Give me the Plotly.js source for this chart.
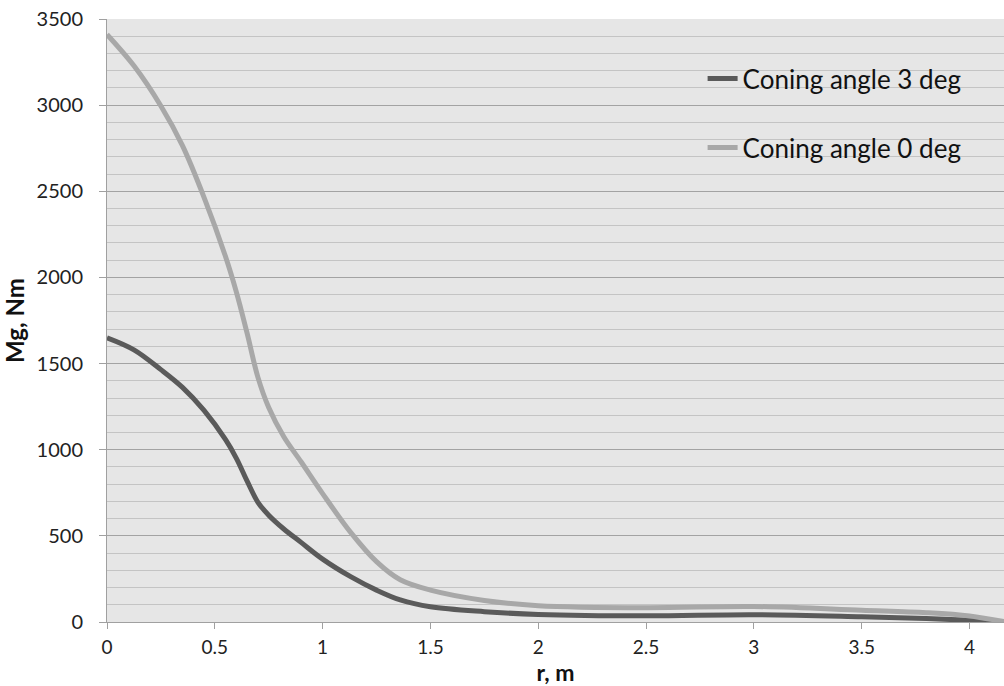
<!DOCTYPE html>
<html>
<head>
<meta charset="utf-8">
<script src="https://cdn.plot.ly/plotly-3.0.1.min.js"></script>
<style>html,body{margin:0;padding:0;background:#fff;}#chart{width:1004px;height:686px;}</style>
</head>
<body>
<div id="chart"></div>
<script>
var r = [0, 0.125, 0.25, 0.35, 0.45, 0.55, 0.6, 0.65, 0.7, 0.75, 0.82, 0.9, 1.0, 1.13, 1.25, 1.36, 1.5, 1.75, 2.0, 2.5, 3.0, 3.5, 3.8, 4.0, 4.16];
var coning3 = [1650, 1580, 1465, 1362, 1228, 1058, 950, 818, 695, 620, 540, 462, 365, 263, 185, 128, 88, 60, 44, 36, 42, 30, 20, 10, 0];
var coning0 = [3410, 3228, 2995, 2765, 2465, 2120, 1915, 1675, 1420, 1245, 1075, 930, 745, 520, 350, 245, 185, 125, 95, 83, 90, 68, 54, 35, 2];
var seriesNames = ["Coning angle 3 deg", "Coning angle 0 deg"];

var font = "Lato, 'Open Sans', sans-serif";
var traces = [
  {x: r, y: coning3, name: seriesNames[0], mode: "lines", legendgroup: "a",
   line: {color: "#5a5a5a", width: 5, shape: "spline", smoothing: 1}},
  {x: r, y: coning0, name: seriesNames[1], mode: "lines", legendgroup: "b",
   line: {color: "#a8a8a8", width: 5, shape: "spline", smoothing: 1}}
];
var layout = {
  width: 1004, height: 686,
  margin: {l: 107, r: 0, t: 19, b: 64},
  paper_bgcolor: "#ffffff",
  plot_bgcolor: "#e6e6e6",
  font: {family: font, color: "#222", size: 19},
  showlegend: true,
  legend: {x: 0.664, y: 0.94, xanchor: "left", yanchor: "top", bgcolor: "rgba(0,0,0,0)",
           font: {size: 26, color: "#111"}, tracegroupgap: 32, itemwidth: 30},
  xaxis: {range: [0, 4.16], tickvals: [0, 0.5, 1, 1.5, 2, 2.5, 3, 3.5, 4],
          ticktext: ["0", "0.5", "1", "1.5", "2", "2.5", "3", "3.5", "4"],
          showgrid: false, zeroline: false, showline: true, linecolor: "#a0a0a0", linewidth: 1,
          ticks: "outside", ticklen: 6, tickcolor: "#a0a0a0", ticklabelstandoff: 2,
          tickfont: {size: 19, color: "#222"},
          title: {text: "<b>r, m</b>", font: {size: 23, color: "#111"}, standoff: 3}},
  yaxis: {range: [0, 3500], dtick: 500, showgrid: true, gridcolor: "#a3a3a3", gridwidth: 1,
          zeroline: false, showline: true, linecolor: "#a0a0a0", linewidth: 1,
          ticks: "outside", ticklen: 7, tickcolor: "#a0a0a0", ticklabelstandoff: 12,
          tickfont: {size: 20, color: "#222"},
          minor: {dtick: 100, showgrid: true, gridcolor: "#c4c4c4", gridwidth: 1, ticks: ""},
          title: {text: "<b>Mg, Nm</b>", font: {size: 24, color: "#111"}, standoff: 6}}
};
Plotly.newPlot("chart", traces, layout, {displayModeBar: false, staticPlot: true});
</script>
</body>
</html>
